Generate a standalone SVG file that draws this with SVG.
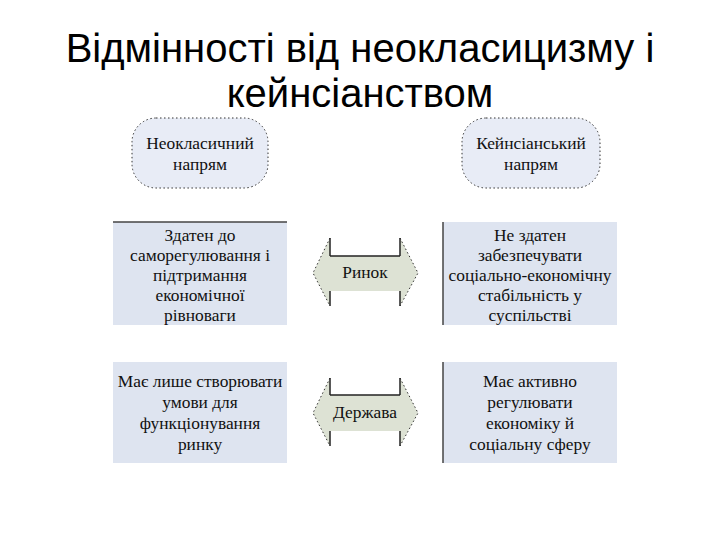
<svg xmlns="http://www.w3.org/2000/svg" width="720" height="540" viewBox="0 0 720 540">
<style>
.title{font-family:"Liberation Sans",Arial,sans-serif;font-size:40px;fill:#000;text-anchor:middle}
.t{font-family:"Liberation Serif","Times New Roman",serif;font-size:17.4px;fill:#111;text-anchor:middle}
.pill{fill:#e8ecf6;stroke:#333;stroke-width:1;stroke-dasharray:1.5 2.5}
.box{fill:#dee4f0}
.edge{stroke:#444;stroke-width:1.5}
.arrow{fill:#dde2d4}
.dot{fill:none;stroke:#333;stroke-width:1;stroke-dasharray:1.5 2.5}
.solid{stroke:#222;stroke-width:1.5}
</style>
<rect width="720" height="540" fill="#fff"/>
<text class="title" x="360" y="62">Відмінності від неокласицизму і</text>
<text class="title" x="360" y="107">кейнсіанством</text>

<g id="neoclassical">
<rect class="pill" x="132" y="118" width="136" height="70" rx="24"/>
<text class="t" x="200" y="149">Неокласичний</text>
<text class="t" x="200" y="170">напрям</text>
</g>
<g id="keynesian">
<rect class="pill" x="462" y="118" width="138" height="70" rx="24"/>
<text class="t" x="531" y="149">Кейнсіанський</text>
<text class="t" x="531" y="170">напрям</text>
</g>

<g id="market-left">
<rect class="box" x="113" y="222" width="174" height="103"/>
<line class="edge" x1="113" y1="222" x2="287" y2="222"/>
<text class="t" x="200" y="241">Здатен до</text>
<text class="t" x="200" y="261">саморегулювання і</text>
<text class="t" x="200" y="281">підтримання</text>
<text class="t" x="200" y="301">економічної</text>
<text class="t" x="200" y="321">рівноваги</text>
</g>
<g id="market-right">
<rect class="box" x="443" y="222" width="174" height="103"/>
<line class="edge" x1="443" y1="222" x2="443" y2="325"/>
<text class="t" x="530" y="241">Не здатен</text>
<text class="t" x="530" y="261">забезпечувати</text>
<text class="t" x="530" y="281">соціально-економічну</text>
<text class="t" x="530" y="301">стабільність у</text>
<text class="t" x="530" y="321">суспільстві</text>
</g>
<g id="state-left">
<rect class="box" x="113" y="362" width="174" height="101"/>
<text class="t" x="200" y="387">Має лише створювати</text>
<text class="t" x="200" y="408">умови для</text>
<text class="t" x="200" y="429">функціонування</text>
<text class="t" x="200" y="450">ринку</text>
</g>
<g id="state-right">
<rect class="box" x="443" y="362" width="174" height="101"/>
<line class="edge" x1="443" y1="362" x2="443" y2="463" stroke="#777"/>
<text class="t" x="530" y="387">Має активно</text>
<text class="t" x="530" y="408">регулювати</text>
<text class="t" x="530" y="429">економіку й</text>
<text class="t" x="530" y="450">соціальну сферу</text>
</g>

<g id="connectors">
<g id="arrow-market">
<polygon class="arrow" points="313,273 330,238 330,256 400,256 400,238 418,273 400,306 400,291 330,291 330,306"/>
<polyline class="dot" points="330,238 313,273 330,306"/>
<polyline class="dot" points="400,238 418,273 400,306"/>
<line class="solid" x1="330" y1="238" x2="330" y2="256"/>
<line class="solid" x1="330" y1="256" x2="400" y2="256"/>
<line class="solid" x1="400" y1="238" x2="400" y2="256"/>
<line class="solid" x1="330" y1="291" x2="330" y2="306"/>
<line class="solid" x1="400" y1="291" x2="400" y2="306"/>
<text class="t" x="365" y="278">Ринок</text>
</g>
<g id="arrow-state">
<polygon class="arrow" points="313,413 330,378 330,395 400,395 400,378 418,413 400,446 400,431 330,431 330,446"/>
<polyline class="dot" points="330,378 313,413 330,446"/>
<polyline class="dot" points="400,378 418,413 400,446"/>
<line class="solid" x1="330" y1="378" x2="330" y2="395"/>
<line class="solid" x1="330" y1="395" x2="400" y2="395"/>
<line class="solid" x1="400" y1="378" x2="400" y2="395"/>
<line class="solid" x1="330" y1="431" x2="330" y2="446"/>
<line class="solid" x1="400" y1="431" x2="400" y2="446"/>
<text class="t" x="365" y="418">Держава</text>
</g>
</g>
</svg>
